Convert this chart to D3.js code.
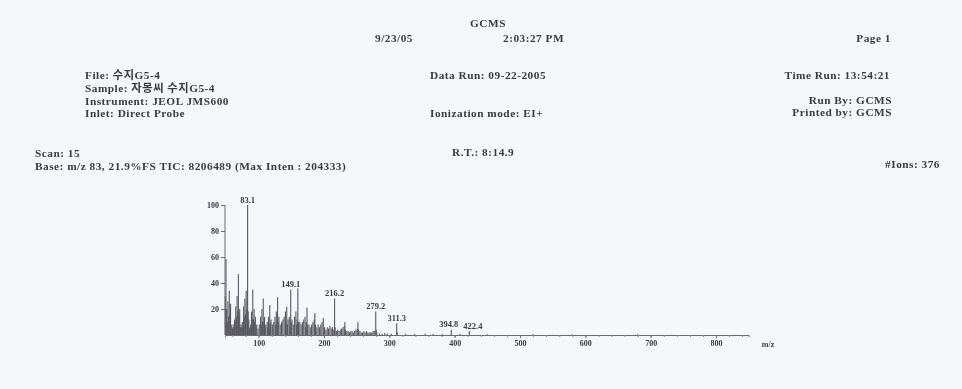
<!DOCTYPE html>
<html>
<head>
<meta charset="utf-8">
<script src="https://cdn.jsdelivr.net/npm/d3@7"></script>
<style>
  body { margin: 0; background: #f6f7fb; }
  svg { display: block; }
  text { font-family: "Liberation Serif", "Noto Sans CJK KR", serif; fill: #3b3b40; }
  .hdr { font-size: 11.3px; font-weight: bold; letter-spacing: 0.5px; }
  .small { font-size: 8px; font-weight: bold; }
  .plabel { font-size: 8.5px; font-weight: bold; }
</style>
</head>
<body>
<svg id="chart" width="962" height="389"></svg>
<script>
// spectrum: m/z and relative intensity (%)
const mz = [49, 50, 51, 52, 53, 54, 55, 56, 57, 58, 59, 60, 61, 62, 63, 64, 65, 66, 67, 68, 69, 70, 71, 72, 73, 74, 75, 76, 77, 78,
  79, 80, 81, 82, 83.1, 84, 85, 86, 87, 88, 89, 90, 91, 92, 93, 94, 95, 96, 97, 99, 101, 103, 104, 105, 106, 107, 108, 109, 110, 111,
  113, 114, 115, 116, 117, 118, 119, 121, 123, 125, 126, 127, 128, 129, 130, 131, 133, 135, 137, 139, 141, 142, 143, 144, 145, 147, 148,
  149.1, 150, 151, 153, 155, 157, 158, 159, 160, 161, 163, 165, 167, 169, 171, 172, 173, 174, 175, 177, 179, 181, 183, 185, 186, 187,
  189, 191, 193, 195, 197, 199, 200, 201, 203, 205, 207, 209, 211, 213, 215, 216.2, 217, 219, 221, 223, 225, 227, 229, 231, 232, 233,
  235, 237, 239, 241, 243, 245, 247, 249, 251, 252, 253, 255, 257, 259, 261, 263, 265, 267, 269, 271, 273, 275, 277, 279.2, 280, 281,
  285, 289, 293, 297, 303, 311.3, 312, 325, 339, 355, 367, 381, 394.8, 408, 422.4, 450, 520, 580, 680];
const intensity = [30, 58, 20, 10, 26, 14, 34, 16, 24, 8, 6, 5, 8, 6, 12, 10, 22, 14, 30, 18, 47, 14, 20, 6, 8, 6, 10, 8, 22, 14,
  28, 16, 34, 20, 100, 18, 12, 5, 6, 8, 18, 12, 35, 12, 20, 10, 14, 6, 8, 5, 8, 14, 8, 20, 10, 28, 10, 14, 6, 8,
  10, 6, 14, 8, 23, 9, 12, 8, 10, 14, 8, 18, 10, 29, 10, 14, 8, 10, 12, 14, 18, 8, 22, 8, 12, 14, 6,
  35, 10, 12, 8, 14, 18, 8, 12, 36, 10, 10, 8, 10, 12, 14, 6, 10, 21, 8, 8, 6, 8, 10, 12, 17, 8,
  6, 8, 6, 8, 10, 13, 5, 6, 4, 6, 5, 7, 5, 6, 4, 28, 6, 3, 4, 3, 4, 5, 6, 7, 10, 4,
  3, 3, 2, 3, 3, 2, 3, 4, 5, 10, 4, 3, 2, 2, 3, 2, 3, 2, 2, 2, 2, 3, 3, 18, 4, 2,
  1, 1, 1.5, 1, 1, 9, 2, 1, 0.8, 1, 0.8, 0.8, 4, 0.8, 3, 0.6, 0.6, 0.5, 0.5];

const peakLabels = ["83.1", "149.1", "216.2", "279.2", "311.3", "394.8", "422.4"];
const xTicks = [100, 200, 300, 400, 500, 600, 700, 800];
const yTicks = [20, 40, 60, 80, 100];

const svg = d3.select('#chart');

// soft blur to mimic the scanned printout
svg.append('defs').append('filter')
  .attr('id', 'scan')
  .append('feGaussianBlur')
  .attr('stdDeviation', 0.45);

const g = svg.append('g').attr('filter', 'url(#scan)');

// header text
const hdr = [
  { t: 'GCMS', x: 488, y: 27, a: 'middle' },
  { t: '9/23/05', x: 375, y: 42, a: 'start' },
  { t: '2:03:27 PM', x: 503, y: 42, a: 'start' },
  { t: 'Page 1', x: 891, y: 42, a: 'end' },
  { t: 'File: 수지G5-4', x: 85, y: 79, a: 'start' },
  { t: 'Sample: 자몽씨 수지G5-4', x: 85, y: 92, a: 'start' },
  { t: 'Instrument: JEOL JMS600', x: 85, y: 105, a: 'start' },
  { t: 'Inlet: Direct Probe', x: 85, y: 117, a: 'start' },
  { t: 'Data Run: 09-22-2005', x: 430, y: 79, a: 'start' },
  { t: 'Ionization mode: EI+', x: 430, y: 117, a: 'start' },
  { t: 'Time Run: 13:54:21', x: 890, y: 79, a: 'end' },
  { t: 'Run By: GCMS', x: 892, y: 104, a: 'end' },
  { t: 'Printed by: GCMS', x: 892, y: 116, a: 'end' },
  { t: 'Scan: 15', x: 35, y: 157, a: 'start' },
  { t: 'Base: m/z 83, 21.9%FS  TIC: 8206489 (Max Inten : 204333)', x: 35, y: 170, a: 'start' },
  { t: 'R.T.: 8:14.9', x: 452, y: 156, a: 'start' },
  { t: '#Ions: 376', x: 940, y: 168, a: 'end' }
];

g.append('g').selectAll('text')
  .data(hdr)
  .enter()
  .append('text')
  .attr('class', 'hdr')
  .attr('x', d => d.x)
  .attr('y', d => d.y)
  .attr('text-anchor', d => d.a)
  .text(d => d.t);

// scales
const x = d3.scaleLinear().domain([48.5, 850]).range([225, 748.7]);
const y = d3.scaleLinear().domain([0, 100]).range([335, 205]);

const peaks = mz.map((m, i) => ({ mz: m, v: intensity[i] }));

// peak sticks
g.append('g')
  .selectAll('line')
  .data(peaks)
  .enter()
  .append('line')
  .attr('x1', d => x(d.mz))
  .attr('x2', d => x(d.mz))
  .attr('y1', y(0))
  .attr('y2', d => y(d.v))
  .attr('stroke', '#58585e')
  .attr('stroke-width', 1.1);

// peak labels (the last two sit side by side, as on the printout)
const labelled = peaks.filter(d => peakLabels.includes(String(d.mz)));
g.append('g')
  .selectAll('text')
  .data(labelled)
  .enter()
  .append('text')
  .attr('class', 'plabel')
  .attr('x', d => d.mz === 394.8 ? x(d.mz) + 7 : d.mz === 422.4 ? x(d.mz) - 6 : x(d.mz))
  .attr('y', d => y(d.v) - 2.5)
  .attr('text-anchor', d => d.mz === 394.8 ? 'end' : d.mz === 422.4 ? 'start' : 'middle')
  .text(d => d.mz.toFixed(1));

// x axis
const xAxis = g.append('g')
  .attr('transform', `translate(0,${y(0)})`)
  .call(d3.axisBottom(x).tickValues(d3.range(60, 850, 20)).tickSize(2).tickFormat(''));
xAxis.select('.domain').attr('stroke', '#6a6a70');
xAxis.selectAll('.tick line').attr('stroke', '#8a8a90');

const xMajor = g.append('g')
  .attr('transform', `translate(0,${y(0)})`)
  .call(d3.axisBottom(x).tickValues(xTicks).tickSize(3).tickPadding(2).tickFormat(d3.format('d')));
xMajor.select('.domain').remove();
xMajor.selectAll('.tick line').attr('stroke', '#6a6a70');
xMajor.selectAll('.tick text')
  .attr('class', 'small')
  .attr('fill', null)
  .style('font-family', null);

g.append('text')
  .attr('class', 'small')
  .attr('x', 768)
  .attr('y', 347)
  .attr('text-anchor', 'middle')
  .text('m/z');

// y axis
const yAxis = g.append('g')
  .attr('transform', `translate(${x(48.5)},0)`)
  .call(d3.axisLeft(y).tickValues(yTicks).tickSize(4).tickPadding(2).tickFormat(d3.format('d')));
yAxis.select('.domain').attr('stroke', '#6a6a70').attr('d', `M0,${y(0)}V${y(100)}`);
yAxis.selectAll('.tick line').attr('stroke', '#6a6a70');
yAxis.selectAll('.tick text')
  .attr('class', 'small')
  .attr('fill', null)
  .style('font-family', null);
</script>
</body>
</html>
